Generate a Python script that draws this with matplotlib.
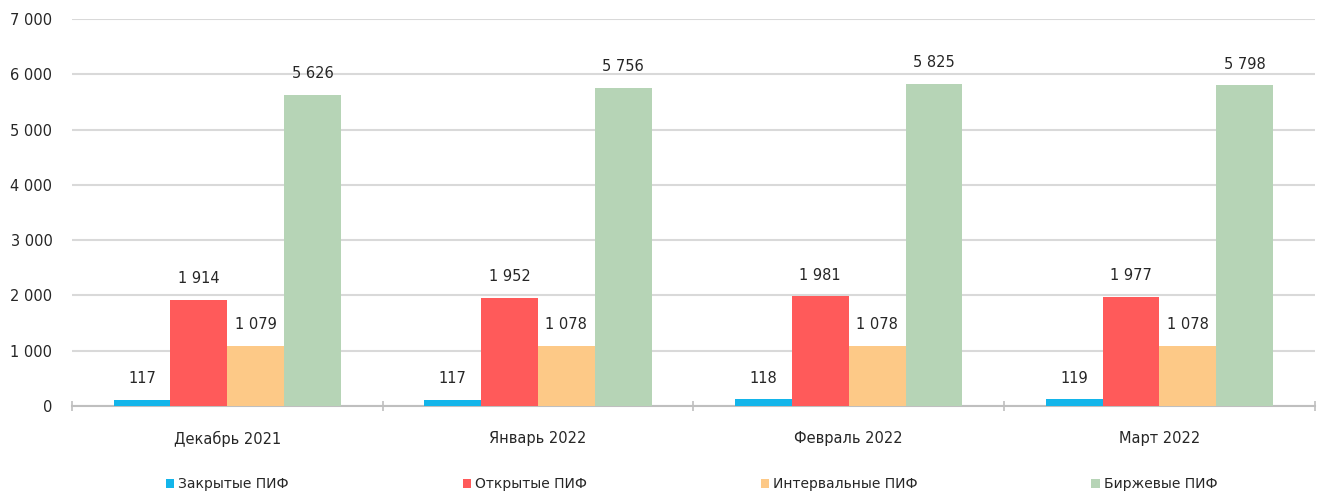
import numpy as np
import matplotlib
matplotlib.use('Agg')
import matplotlib.pyplot as plt
from matplotlib.ticker import FuncFormatter, FixedLocator

# Data
months = ['Декабрь 2021', 'Январь 2022', 'Февраль 2022', 'Март 2022']
series_names = ['Закрытые ПИФ', 'Открытые ПИФ', 'Интервальные ПИФ', 'Биржевые ПИФ']
closed_funds = [117, 117, 118, 119]
open_funds = [1914, 1952, 1981, 1977]
interval_funds = [1079, 1078, 1078, 1078]
exchange_funds = [5626, 5756, 5825, 5798]

colors = ['#13b5ea', '#ff5a5a', '#fdc987', '#b6d4b6']
text_color = '#262626'
grid_color = '#d9d9d9'


def fmt_thousands(x, pos=None):
    return f'{int(round(x)):,}'.replace(',', ' ')


fig = plt.figure(figsize=(13.2, 4.93), dpi=100)
ax = fig.add_axes([0.0545, 0.1765, 0.9415, 0.785])

x = np.arange(len(months))
width = 0.183
all_series = [closed_funds, open_funds, interval_funds, exchange_funds]
for i, (vals, name, col) in enumerate(zip(all_series, series_names, colors)):
    pos = x + (i - 1.5) * width
    bars = ax.bar(pos, vals, width=width, color=col, label=name, zorder=3)
    for b, v in zip(bars, vals):
        ax.annotate(fmt_thousands(v), xy=(b.get_x() + b.get_width() / 2, v),
                    xytext=(0, 10), textcoords='offset points',
                    ha='center', va='bottom', fontsize=10.5, color=text_color)

ax.set_xlim(-0.5, len(months) - 0.5)
ax.set_ylim(0, 7000)
ax.set_yticks(np.arange(0, 7001, 1000))
ax.yaxis.set_major_formatter(FuncFormatter(fmt_thousands))
ax.grid(axis='y', color=grid_color, linewidth=1.5, zorder=0)

ax.set_xticks(x)
ax.set_xticklabels(months)
ax.xaxis.set_minor_locator(FixedLocator(np.arange(-0.5, len(months), 1.0)))
ax.tick_params(axis='x', which='major', length=0, pad=18, labelsize=10.5, colors=text_color)
ax.tick_params(axis='x', which='minor', length=7, width=1.2, color='#bfbfbf', direction='inout')
ax.tick_params(axis='y', length=0, pad=14, labelsize=10.5, colors=text_color)

for side in ['top', 'right', 'left']:
    ax.spines[side].set_visible(False)
ax.spines['bottom'].set_color('#bfbfbf')
ax.spines['bottom'].set_linewidth(1.5)

fig.legend(loc='lower center', bbox_to_anchor=(0.524, -0.022), ncol=4, frameon=False,
           fontsize=10, handlelength=0.6, handleheight=0.6, handletextpad=0.3,
           columnspacing=12.5, labelcolor=text_color)

fig.savefig('out.png', dpi=100, facecolor='white')
plt.close(fig)
